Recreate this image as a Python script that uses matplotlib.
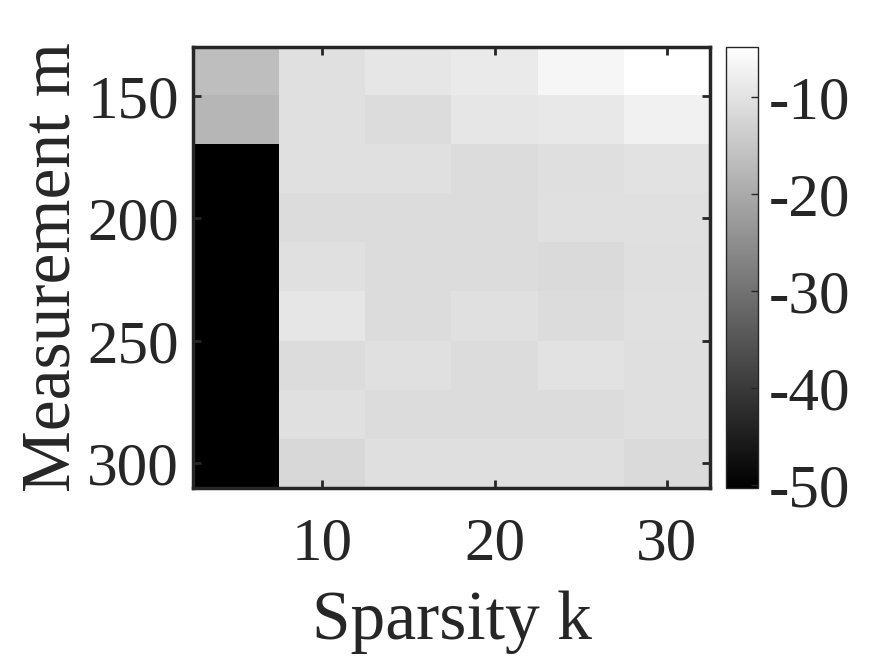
import numpy as np
import matplotlib.pyplot as plt

plt.rcParams['font.family'] = ['Liberation Serif', 'DejaVu Serif']
plt.rcParams['axes.unicode_minus'] = False

# sparsity k (columns) and measurement m (rows)
sparsity = [5, 10, 15, 20, 25, 30]
measurement = [140, 160, 180, 200, 220, 240, 260, 280, 300]

# error in dB, read from the grey levels
err_db = [
    [-16.4, -10.4, -9.3, -8.6, -6.5, -4.85],
    [-17.9, -10.4, -11.1, -9.3, -9.0, -7.5],
    [-50.3, -10.4, -10.4, -11.1, -10.7, -10.0],
    [-50.3, -11.1, -11.1, -11.1, -10.4, -10.4],
    [-50.3, -10.4, -11.1, -11.1, -11.5, -10.7],
    [-50.3, -9.3, -11.1, -10.4, -11.1, -10.4],
    [-50.3, -11.1, -10.4, -11.1, -10.0, -10.7],
    [-50.3, -10.4, -11.1, -11.1, -11.1, -10.7],
    [-50.3, -11.8, -10.7, -10.7, -10.7, -11.5],
]
x_ticks = [10, 20, 30]
y_ticks = [150, 200, 250, 300]
cbar_ticks = [-50, -40, -30, -20, -10]

data = np.array(err_db)
dx = sparsity[1] - sparsity[0]
dy = measurement[1] - measurement[0]
extent = [sparsity[0] - dx / 2, sparsity[-1] + dx / 2,
          measurement[-1] + dy / 2, measurement[0] - dy / 2]

fig = plt.figure(figsize=(8.75, 6.56), dpi=100)
ax = fig.add_axes([0.2206, 0.2561, 0.5908, 0.6723])
cax = fig.add_axes([0.8297, 0.2561, 0.0366, 0.6723])

im = ax.imshow(data, cmap='gray', extent=extent, aspect='auto',
               interpolation='nearest')

dark = '#262626'
ax.set_xticks(x_ticks)
ax.set_yticks(y_ticks)
ax.tick_params(direction='in', length=6, width=2, top=True, right=True,
               labelsize=44, colors=dark, pad=10)
ax.tick_params(axis='x', pad=21)
for s in ax.spines.values():
    s.set_linewidth(2.5)
    s.set_color(dark)
ax.set_xlabel('Sparsity k', fontsize=50, color=dark, labelpad=13)
ax.set_ylabel('Measurement m', fontsize=50, color=dark, labelpad=2)

cb = fig.colorbar(im, cax=cax, ticks=cbar_ticks)
cb.ax.tick_params(direction='in', length=5, width=1, labelsize=44,
                  colors=dark, pad=8)
cb.outline.set_linewidth(1)
cb.outline.set_edgecolor(dark)

fig.savefig('out.png', dpi=100)
